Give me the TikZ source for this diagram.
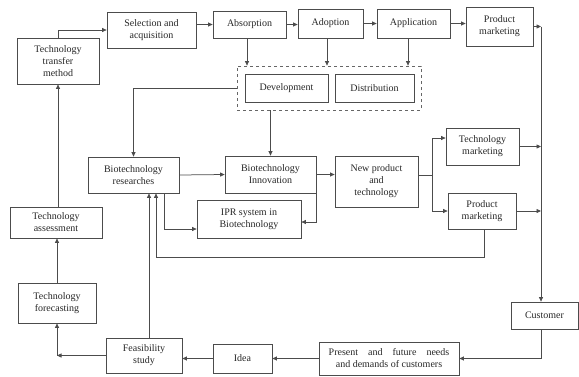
\documentclass[tikz,border=0pt]{standalone}
\usepackage{fontspec}
\setmainfont{Liberation Serif}
\usetikzlibrary{arrows.meta,calc}
\begin{document}
\begin{tikzpicture}[x=1pt,y=-1pt,
  box/.style={draw=black!70,line width=0.75pt,align=center,inner sep=1pt,
    font=\fontsize{10}{12}\selectfont,text=black!85},
  ln/.style={draw=black!70,line width=0.75pt},
  ar/.style={ln,-{Triangle[length=4.5pt,width=4pt]}}]
\useasboundingbox (0,0) rectangle (579,376);
% boxes
\node[box,minimum width=82pt,minimum height=46pt] (tm) at (58,61) {Technology\\transfer\\method};
\node[box,minimum width=89pt,minimum height=36pt] (sel) at (151.5,30) {Selection and\\acquisition};
\node[box,minimum width=73pt,minimum height=27pt] (abs) at (249.5,24.5) {Absorption};
\node[box,minimum width=65pt,minimum height=29pt] (adop) at (330.5,23.5) {Adoption};
\node[box,minimum width=73pt,minimum height=29pt] (appl) at (413.5,23.5) {Application};
\node[box,minimum width=67pt,minimum height=39pt] (pm1) at (499.5,26.5) {Product\\marketing};
\node[draw=black!60,line width=0.75pt,dashed,minimum width=184pt,minimum height=44pt] (db) at (329,88) {};
\node[box,minimum width=83pt,minimum height=28pt] (dev) at (286.5,88) {Development};
\node[box,minimum width=79pt,minimum height=28pt] (dist) at (374.5,88) {Distribution};
\node[box,minimum width=91pt,minimum height=36pt] (br) at (133.5,175) {Biotechnology\\researches};
\node[box,minimum width=91pt,minimum height=37pt] (bi) at (270.5,174.5) {Biotechnology\\Innovation};
\node[box,minimum width=104pt,minimum height=38pt] (ipr) at (249,219) {IPR system in\\Biotechnology};
\node[box,minimum width=83pt,minimum height=51pt] (np) at (376.5,181.5) {New product\\and\\technology};
\node[box,minimum width=73pt,minimum height=37pt] (tmk) at (482.5,146.5) {Technology\\marketing};
\node[box,minimum width=68pt,minimum height=36pt] (pm2) at (482,211) {Product\\marketing};
\node[box,minimum width=92pt,minimum height=31pt] (ta) at (56,222.5) {Technology\\assessment};
\node[box,minimum width=78pt,minimum height=40pt] (tf) at (57,303) {Technology\\forecasting};
\node[box,minimum width=76pt,minimum height=35pt] (fs) at (144,355.5) {Feasibility\\study};
\node[box,minimum width=59pt,minimum height=29pt] (idea) at (242.5,358.5) {Idea};
\node[box,minimum width=140pt,minimum height=33pt] (pres) at (389,358.5) {Present\quad and\quad future\quad needs\\and demands of customers};
\node[box,minimum width=67pt,minimum height=27pt] (cust) at (544.5,315.5) {Customer};
% coordinates
\coordinate (j) at (432,175);
\coordinate (bt) at (541,28);
\coordinate (m) at (156,257);
\coordinate (k) at (fs.west -| tf.south);
% connectors
\draw[ar] (tm.north) |- (sel.west);
\draw[ar] (sel.east |- abs.west) -- (abs.west);
\draw[ar] (abs.east) -- (abs.east -| adop.west);
\draw[ar] (adop.east) -- (appl.west);
\draw[ar] (appl.east) -- (appl.east -| pm1.west);
\draw[ar] ([xshift=-2.5pt]abs.south) -- ([xshift=-2.5pt]abs.south |- db.north);
\draw[ar] ([xshift=-3.5pt]adop.south) -- ([xshift=-3.5pt]adop.south |- db.north);
\draw[ar] ([xshift=-5.5pt]appl.south) -- ([xshift=-5.5pt]appl.south |- db.north);
\draw[ar] (db.west) -| (br.north);
\draw[ar] (bi.north |- db.south) -- (bi.north);
\draw[ar] (br.east) -- (bi.west);
\draw[ar] ([xshift=30.5pt]br.south) |- ([yshift=-10pt]ipr.west);
\draw[ar] (bi.east) |- ([yshift=-3pt]ipr.east);
\draw[ar] (bi.east) -- (bi.east -| np.west);
\draw[ln] (np.east |- j) -- (j);
\draw[ar] (j) |- ([yshift=8.5pt]tmk.west);
\draw[ar] (j) |- (pm2.west);
\draw[ar] (pm1.east) -- (pm1.east -| bt);
\draw[ar] (tmk.east) -- (tmk.east -| bt);
\draw[ar] (pm2.east) -- (pm2.east -| bt);
\draw[ar] (pm1.east -| bt) -- (bt |- cust.north);
\draw[ar] (bt |- cust.south) |- (pres.east);
\draw[ar] (pres.west) -- (pres.west -| idea.east);
\draw[ar] (idea.west) -- (idea.west -| fs.east);
\draw[ar] (fs.west) -- (k);
\draw[ar] (k) -- (tf.south);
\draw[ar] (tf.north) -- (tf.north |- ta.south);
\draw[ar] (tm.south |- ta.north) -- (tm.south);
\draw[ar] ([xshift=5pt]fs.north) -- ([xshift=5pt]fs.north |- br.south);
\draw[ar] ([xshift=2pt]pm2.south) |- (m) -- (m |- br.south);
\end{tikzpicture}
\end{document}
